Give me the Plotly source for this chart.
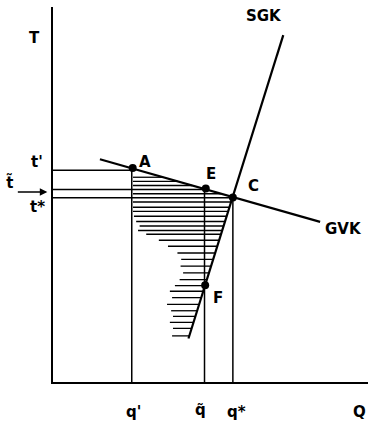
import plotly.graph_objects as go

# Axis labels / point labels
point_names = ["A", "E", "C", "F"]
point_q = [2.53, 4.85, 5.71, 4.83]
point_t = [5.71, 5.16, 4.92, 2.58]

# Curves (end points)
gvk_q = [1.49, 8.48]
gvk_t = [5.94, 4.27]
sgk_q = [4.30, 7.31]
sgk_t = [1.16, 9.25]

# Price levels and quantities
t_prime, t_tilde, t_star = 5.65, 5.135, 4.915
q_prime, q_tilde, q_star = 2.50, 4.81, 5.71

# Hatching rows: level and left start
hatch_t = [5.46, 5.35, 5.24, 5.02, 4.80, 4.66, 4.55, 4.42, 4.28, 4.16, 4.04,
           3.94, 3.78, 3.62, 3.44, 3.27, 3.09, 2.91, 2.73, 2.57, 2.42, 2.25,
           2.07, 1.90, 1.75, 1.59, 1.43, 1.23]
hatch_left = [2.54, 2.54, 2.54, 2.54, 2.54, 2.54, 2.54, 2.57, 2.64, 2.75, 2.70,
              2.96, 3.36, 3.65, 3.95, 4.07, 4.05, 4.13, 4.02, 3.87, 3.71, 3.78,
              3.62, 3.75, 3.81, 3.71, 3.81, 3.78]

XR = [0, 10]
YR = [0, 10]

def q_on(qs, ts, t):
    return qs[0] + (t - ts[0]) * (qs[1] - qs[0]) / (ts[1] - ts[0])

hx, hy = [], []
for t, l in zip(hatch_t, hatch_left):
    r = min(q_on(gvk_q, gvk_t, t), q_on(sgk_q, sgk_t, t))
    hx += [l, r, None]
    hy += [t, t, None]

fig = go.Figure()
K = "black"
fig.add_trace(go.Scatter(x=hx, y=hy, mode="lines", line=dict(color=K, width=1.3),
                         hoverinfo="skip"))
# guide lines
gx = [0, q_prime, None, 0, q_tilde, None, 0, q_star, None,
      q_prime, q_prime, None, q_tilde, q_tilde, None, q_star, q_star]
gy = [t_prime, t_prime, None, t_tilde, t_tilde, None, t_star, t_star, None,
      0, point_t[0], None, 0, point_t[1], None, 0, point_t[2]]
fig.add_trace(go.Scatter(x=gx, y=gy, mode="lines", line=dict(color=K, width=1.5),
                         hoverinfo="skip"))
fig.add_trace(go.Scatter(x=gvk_q, y=gvk_t, mode="lines", line=dict(color=K, width=2.2)))
fig.add_trace(go.Scatter(x=sgk_q, y=sgk_t, mode="lines", line=dict(color=K, width=2.2)))
fig.add_trace(go.Scatter(x=point_q, y=point_t, mode="markers",
                         marker=dict(color=K, size=8)))

font = dict(family="DejaVu Sans", size=15, color=K, weight="bold")
labels = [
    ("T", -0.60, 9.17), ("t'", -0.51, 5.86), ("t\u0303", -1.37, 5.33),
    ("t*", -0.48, 4.66), ("A", 2.92, 5.86), ("E", 5.02, 5.54), ("C", 6.35, 5.22),
    ("F", 5.24, 2.23), ("SGK", 6.70, 9.76), ("GVK", 9.22, 4.07),
    ("q'", 2.57, -0.81), ("q\u0303", 4.67, -0.74),
    ("q*", 5.84, -0.79), ("Q", 9.72, -0.81),
]

def px(x):
    return (x - XR[0]) / (XR[1] - XR[0])

def py(y):
    return (y - YR[0]) / (YR[1] - YR[0])

for txt, x, y in labels:
    fig.add_annotation(x=px(x), y=py(y), xref="paper", yref="paper", text=txt,
                       showarrow=False, font=font, xanchor="center", yanchor="middle")
# arrow for t~
fig.add_annotation(x=px(-0.18), y=py(5.07), ax=-31, ay=0,
                   xref="paper", yref="paper", axref="pixel", ayref="pixel",
                   text="", showarrow=True, arrowhead=2, arrowsize=1,
                   arrowwidth=1.5, arrowcolor=K)

fig.update_layout(
    width=368, height=425, margin=dict(l=53, r=0, t=7, b=43),
    paper_bgcolor="white", plot_bgcolor="white", showlegend=False,
    xaxis=dict(range=XR, showline=True, linecolor=K, linewidth=2.2,
               showgrid=False, zeroline=False, showticklabels=False, ticks=""),
    yaxis=dict(range=YR, showline=True, linecolor=K, linewidth=2.2,
               showgrid=False, zeroline=False, showticklabels=False, ticks=""),
)
fig.write_html("out.html", config={"displayModeBar": False},
               post_script="document.body.style.margin='0px';")
